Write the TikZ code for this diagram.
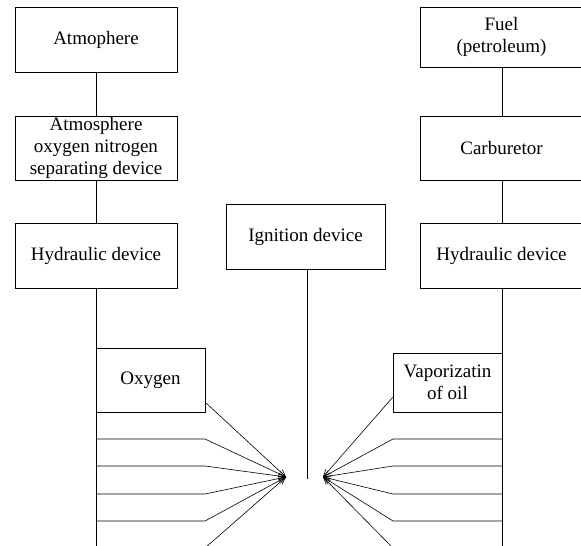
\documentclass[tikz,border=0pt]{standalone}
\usepackage{fontspec}
\setmainfont{Liberation Serif}
\usepackage{tikz}
\usetikzlibrary{shapes,arrows,arrows.meta,positioning,calc}

\begin{document}
\begin{tikzpicture}[x=1pt, y=-1pt, line width=0.6pt,
        unit/.style={draw, line width=0.6pt, inner sep=0pt, align=center,
            minimum width=162pt, minimum height=65pt,
            font=\fontsize{19}{22}\selectfont},
        feed/.style={-{Straight Barb[length=7pt,width=6pt]}, line width=0.6pt}]
        \useasboundingbox (0,0) rectangle (581,546);

        % Air side
        \node[unit] (atm) at (96,39.5) {Atmophere};
        \node[unit, minimum height=64pt] (sep) at (96,148) {Atmosphere\\oxygen nitrogen\\separating device};
        \node[unit] (hydL) at (96,255.5) {Hydraulic device};
        \node[unit, minimum width=109pt, minimum height=64pt] (oxy) at (150.5,380) {Oxygen};

        % Ignition
        \node[unit, minimum width=159pt] (ign) at (305.5,236.5) {Ignition device};

        % Fuel side
        \node[unit, minimum width=163pt, minimum height=60pt] (fuel) at (501.5,37) {Fuel\\(petroleum)};
        \node[unit, minimum width=163pt, minimum height=64pt] (carb) at (501.5,148) {Carburetor};
        \node[unit, minimum width=163pt] (hydR) at (501.5,255.5) {Hydraulic device};
        \node[unit, minimum width=109pt, minimum height=59pt] (vap) at (447.5,382.5) {Vaporizatin\\of oil};

        \coordinate (tipL) at (286,477);
        \coordinate (tipR) at (323,477);
        \coordinate (ignEnd) at (307,479);
        \coordinate (botL) at (96,552);
        \coordinate (botR) at (502,552);

        % Trunks
        \draw (atm) -- (sep);
        \draw (sep) -- (hydL);
        \draw (hydL) -- (botL);
        \draw (fuel.south -| botR) -- (carb.north -| botR);
        \draw (carb.south -| botR) -- (hydR.north -| botR);
        \draw (hydR.south -| botR) -- (botR);
        \draw (ign.south -| ignEnd) -- (ignEnd);

        % Feeds to the chamber
        \draw[feed] ([yshift=10pt]oxy.south east) -- (tipL);
        \draw[feed] ([yshift=15pt]vap.south west) -- (tipR);
        \foreach \y in {439,466,494,521,548} {
            \draw[feed] (96,\y) -- (205,\y) -- (tipL);
            \draw[feed] (502,\y) -- (393,\y) -- (tipR);
        }
    \end{tikzpicture}
\end{document}
